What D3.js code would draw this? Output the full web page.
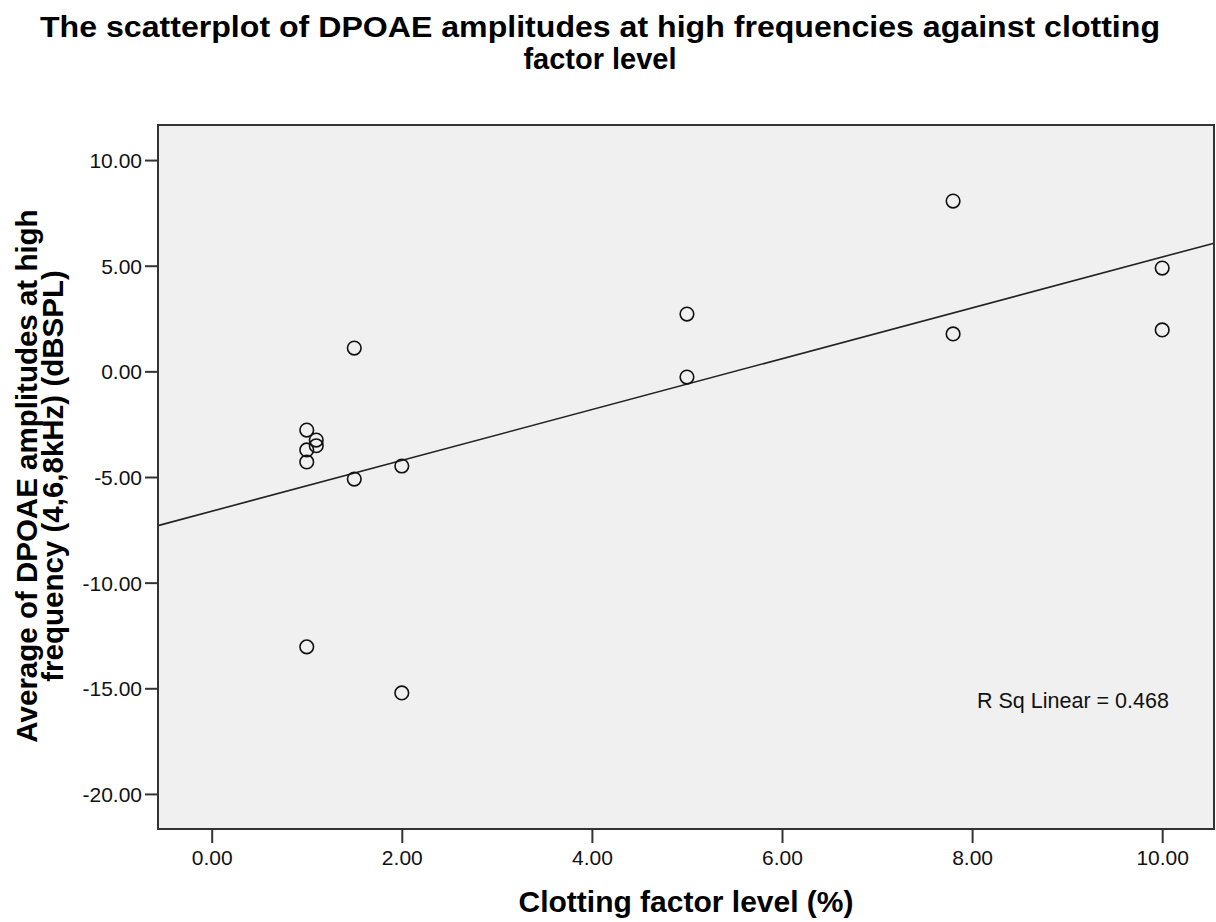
<!DOCTYPE html>
<html><head><meta charset="utf-8">
<script src="https://cdn.jsdelivr.net/npm/d3@7/dist/d3.min.js"></script>
<style>body{margin:0;background:#fff;font-family:"Liberation Sans",Arial,sans-serif;}</style>
</head><body><svg id="c" width="1216" height="922"></svg>
<script>
const clotting = [1, 1.1, 1.1, 1, 1, 1.5, 1.5, 2, 2, 1, 5, 5, 7.8, 7.8, 10, 10];
const dpoae = [-2.78, -3.25, -3.52, -3.72, -4.29, 1.10, -5.10, -4.48, -15.22, -13.04, 2.71, -0.27, 8.06, 1.77, 4.89, 1.96];
const xTicks = [0, 2, 4, 6, 8, 10];
const yTicks = [10, 5, 0, -5, -10, -15, -20];
const titleLines = ["The scatterplot of DPOAE amplitudes at high frequencies against clotting", "factor level"];
const yTitleLines = ["Average of DPOAE amplitudes at high", "frequency (4,6,8kHz) (dBSPL)"];
const xTitle = "Clotting factor level (%)";
const rsqLabel = "R Sq Linear = 0.468";

const FONT = "Liberation Sans, Arial, sans-serif";
const svg = d3.select("#c").attr("font-family", FONT);
const L = 158, R = 1214, T = 125, B = 829;
const x = d3.scaleLinear().domain([-0.565, 10.545]).range([L, R]);
const y = d3.scaleLinear().domain([-21.66, 11.66]).range([B, T]);
const fmt = d => d3.format(".2f")(d).replace("\u2212", "-");

svg.append("rect").attr("x", L).attr("y", T).attr("width", R - L).attr("height", B - T).attr("fill", "#f0f0f0");

// regression line (least squares on the data)
const n = clotting.length;
const mx = d3.mean(clotting), my = d3.mean(dpoae);
let sxy = 0, sxx = 0;
for (let i = 0; i < n; i++) { sxy += (clotting[i] - mx) * (dpoae[i] - my); sxx += (clotting[i] - mx) ** 2; }
const slope = sxy / sxx, icpt = my - slope * mx;
const [x0, x1] = x.domain();
svg.append("line").attr("x1", x(x0)).attr("y1", y(icpt + slope * x0)).attr("x2", x(x1)).attr("y2", y(icpt + slope * x1))
  .attr("stroke", "#222").attr("stroke-width", 1.6);

svg.append("g").selectAll("circle").data(clotting).join("circle")
  .attr("cx", d => x(d)).attr("cy", (d, i) => y(dpoae[i])).attr("r", 6.8)
  .attr("fill", "none").attr("stroke", "#111").attr("stroke-width", 1.6);

// axes
const xa = svg.append("g").attr("transform", `translate(0,${B})`)
  .call(d3.axisBottom(x).tickValues(xTicks).tickFormat(fmt).tickSize(14).tickSizeOuter(0));
const ya = svg.append("g").attr("transform", `translate(${L},0)`)
  .call(d3.axisLeft(y).tickValues(yTicks).tickFormat(fmt).tickSize(13).tickSizeOuter(0));
[xa, ya].forEach(a => {
  a.select(".domain").remove();
  a.selectAll(".tick line").attr("stroke", "#333").attr("stroke-width", 2);
  a.selectAll(".tick text").attr("font-family", FONT).attr("font-size", 21).attr("fill", "#111");
});
xa.selectAll(".tick text").attr("dy", null).attr("y", 36);
ya.selectAll(".tick text").attr("x", -16).attr("dy", "0.36em");

svg.append("rect").attr("x", L).attr("y", T).attr("width", R - L).attr("height", B - T)
  .attr("fill", "none").attr("stroke", "#333").attr("stroke-width", 2);

// titles
svg.append("g").selectAll("text").data(titleLines).join("text")
  .attr("x", 600).attr("y", (d, i) => 37 + i * 32).attr("text-anchor", "middle")
  .attr("font-size", 29).attr("font-weight", "bold").attr("fill", "#000")
  .attr("textLength", (d, i) => i === 0 ? 1120 : null).attr("lengthAdjust", "spacingAndGlyphs")
  .text(d => d);

svg.append("g").selectAll("text").data(yTitleLines).join("text")
  .attr("transform", (d, i) => `translate(${37 + i * 26},476) rotate(-90)`).attr("text-anchor", "middle")
  .attr("font-size", 29.5).attr("font-weight", "bold").attr("fill", "#000").text(d => d);

svg.append("text").attr("x", 686).attr("y", 912).attr("text-anchor", "middle")
  .attr("font-size", 30).attr("font-weight", "bold").attr("fill", "#000").text(xTitle);

svg.append("text").attr("x", 977).attr("y", 708).attr("font-size", 21.5).attr("fill", "#111").text(rsqLabel);
</script></body></html>
